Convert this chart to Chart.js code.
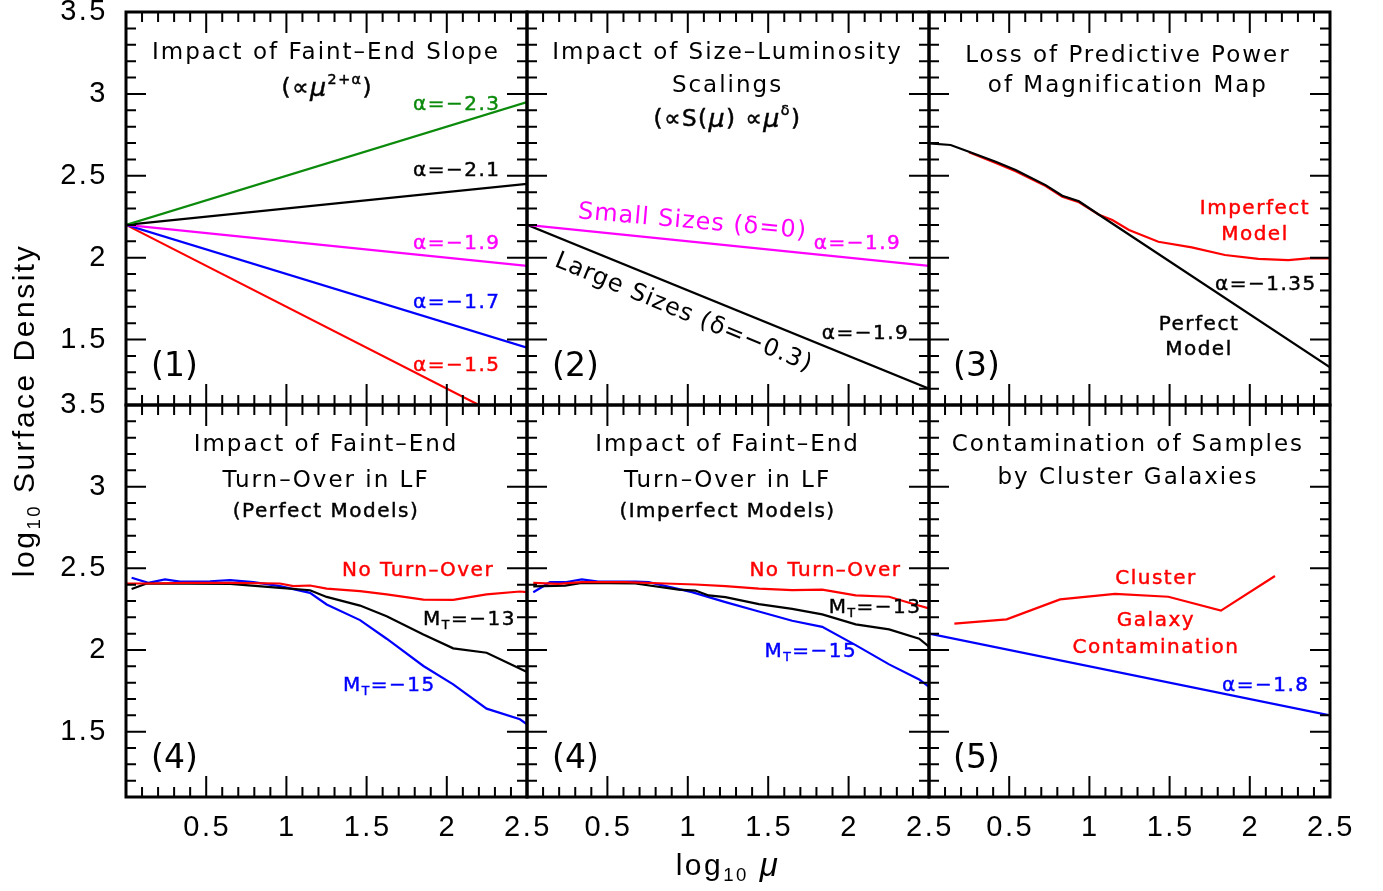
<!DOCTYPE html>
<html>
<head>
<meta charset="utf-8">
<title>Surface density vs magnification</title>
<script src="https://cdn.jsdelivr.net/npm/chart.js@4.4.1/dist/chart.umd.min.js"></script>
<style>
  body { margin: 0; background: #fff; }
  #figure { position: relative; width: 1383px; height: 891px; overflow: hidden; }
  #figure canvas { position: absolute; left: 0; top: 0; }
</style>
</head>
<body>
<div id="figure"></div>
<script>
// === axis ranges and tick labels (shared by all six panels) ===
const xMin = 0, xMax = 2.5;
const yMin = 1.1, yMax = 3.5;
const xTickValues = [0.5, 1, 1.5, 2, 2.5];
const xTickLabels = ["0.5", "1", "1.5", "2", "2.5"];
const yTickValues = [3.5, 3, 2.5, 2, 1.5];
const yTickLabels = ["3.5", "3", "2.5", "2", "1.5"];

// === (1) faint-end slope, [log mu, log density] ===
const slopeA23 = [[0, 2.2], [2.5, 2.95]];
const slopeA21 = [[0, 2.2], [2.5, 2.45]];
const slopeA19 = [[0, 2.2], [2.5, 1.95]];
const slopeA17 = [[0, 2.2], [2.5, 1.45]];
const slopeA15 = [[0, 2.2], [2.5, 0.95]];

// === (2) size-luminosity scalings ===
const sizeSmall = [[0, 2.2], [2.5, 1.95]];
const sizeLarge = [[0, 2.2], [2.5, 1.2]];

// === (3) magnification map ===
const mapPerfect = [[0, 2.698], [0.135, 2.688], [0.249, 2.647], [0.416, 2.585], [0.54, 2.535],
  [0.727, 2.443], [0.831, 2.378], [0.935, 2.344], [1.06, 2.262], [2.5, 1.33]];
const mapImperfect = [[0.249, 2.643], [0.416, 2.578], [0.54, 2.528], [0.727, 2.437], [0.831, 2.372],
  [0.935, 2.338], [1.06, 2.262], [1.143, 2.23], [1.247, 2.169], [1.43, 2.097], [1.638, 2.063],
  [1.845, 2.016], [2.053, 1.992], [2.24, 1.985], [2.365, 1.996], [2.5, 1.996]];

// === (4) turn-over, perfect models ===
const perfNoTurn = [[0.004, 2.407], [0.129, 2.407], [0.378, 2.411], [0.649, 2.411], [0.96, 2.407],
  [1.043, 2.391], [1.147, 2.395], [1.251, 2.376], [1.459, 2.36], [1.625, 2.34], [1.854, 2.309],
  [2.04, 2.307], [2.248, 2.34], [2.456, 2.358], [2.5, 2.354]];
const perfMT13 = [[0.035, 2.374], [0.129, 2.407], [0.649, 2.405], [0.96, 2.38], [1.147, 2.366],
  [1.251, 2.325], [1.459, 2.272], [1.625, 2.207], [1.854, 2.095], [2.04, 2.01], [2.248, 1.983],
  [2.5, 1.865]];
const perfMT15 = [[0.035, 2.442], [0.139, 2.411], [0.243, 2.432], [0.337, 2.419], [0.524, 2.421],
  [0.649, 2.428], [0.794, 2.415], [0.96, 2.391], [1.147, 2.35], [1.251, 2.279], [1.459, 2.183],
  [1.625, 2.069], [1.854, 1.902], [2.04, 1.79], [2.248, 1.641], [2.456, 1.576], [2.5, 1.545]];

// === (4) turn-over, imperfect models ===
const impNoTurn = [[0.039, 2.411], [0.195, 2.405], [0.341, 2.415], [0.611, 2.415], [0.86, 2.407],
  [1.047, 2.401], [1.234, 2.391], [1.442, 2.376], [1.649, 2.366], [1.836, 2.37], [2.044, 2.334],
  [2.252, 2.326], [2.376, 2.289], [2.5, 2.255]];
const impMT13 = [[0.039, 2.39], [0.237, 2.394], [0.341, 2.411], [0.674, 2.407], [0.943, 2.37],
  [1.047, 2.364], [1.13, 2.334], [1.234, 2.324], [1.442, 2.281], [1.649, 2.252], [1.836, 2.218],
  [2.044, 2.157], [2.252, 2.126], [2.439, 2.069], [2.5, 2.02]];
const impMT15 = [[0.039, 2.354], [0.143, 2.415], [0.237, 2.415], [0.341, 2.432], [0.444, 2.419],
  [0.674, 2.419], [0.756, 2.415], [1.026, 2.354], [1.234, 2.293], [1.442, 2.236], [1.649, 2.179],
  [1.836, 2.142], [2.044, 2.03], [2.252, 1.912], [2.439, 1.82], [2.5, 1.775]];

// === (5) cluster contamination ===
const clusterContam = [[0.158, 2.161], [0.484, 2.188], [0.817, 2.31], [1.16, 2.343], [1.492, 2.326],
  [1.82, 2.241], [2.157, 2.453]];
const contamA18 = [[0, 2.1], [2.5, 1.6]];

// === page layout ===
const W = 1383, H = 891;
const colEdges = [126, 527, 929, 1330];
const rowEdges = [12, 405, 797];

const GREEN = "#0b8a0b", MAGENTA = "#ff00ff", BLUE = "#0000ff", RED = "#ff0000", BLACK = "#000";

// text styles (dy nudges the em-box middle onto the cap-height middle)
const STYLE = {
  title:   { size: 23, family: "'DejaVu Sans'", spacing: 2, stroke: 0, dy: 2 },
  formula: { size: 23, family: "'DejaVu Sans'", spacing: 1.5, stroke: 0.5, dy: 2 },
  label:   { size: 20, family: "'DejaVu Sans'", spacing: 1.5, stroke: 0.45, dy: 2 },
  slant:   { size: 24, family: "'DejaVu Sans'", spacing: 1, stroke: 0, dy: 0 },
  tag:     { size: 33, family: "'DejaVu Sans'", spacing: 0, stroke: 0, dy: 3 },
  tick:    { size: 29, family: "'Liberation Sans'", spacing: 2.5, stroke: 0, dy: 0 },
  axis:    { size: 30, family: "'Liberation Sans'", spacing: 2.5, stroke: 0, dy: 0 }
};

const MT13 = [["M", ""], ["T", "sub"], ["=−13", ""]];
const MT15 = [["M", ""], ["T", "sub"], ["=−15", ""]];

const panels = [
  {
    col: 0, row: 0,
    series: [[slopeA23, GREEN], [slopeA21, BLACK], [slopeA19, MAGENTA], [slopeA17, BLUE], [slopeA15, RED]],
    texts: [
      { at: [1.247, 3.262], text: "Impact of Faint–End Slope", style: "title" },
      { at: [1.255, 3.042], parts: [["(∝", ""], ["μ", "it"], ["2+α", "sup"], [")", ""]], style: "formula" },
      { at: [1.789, 2.944], text: "α=−2.3", style: "label", align: "left", color: GREEN },
      { at: [1.789, 2.541], text: "α=−2.1", style: "label", align: "left" },
      { at: [1.789, 2.095], text: "α=−1.9", style: "label", align: "left", color: MAGENTA },
      { at: [1.789, 1.735], text: "α=−1.7", style: "label", align: "left", color: BLUE },
      { at: [1.789, 1.35], text: "α=−1.5", style: "label", align: "left", color: RED },
      { at: [0.156, 1.35], text: "(1)", style: "tag", align: "left" }
    ]
  },
  {
    col: 1, row: 0,
    series: [[sizeSmall, MAGENTA], [sizeLarge, BLACK]],
    texts: [
      { at: [1.247, 3.262], text: "Impact of Size–Luminosity", style: "title" },
      { at: [1.247, 3.06], text: "Scalings", style: "title" },
      { at: [1.247, 2.853], parts: [["(∝S(", ""], ["μ", "it"], [") ∝", ""], ["μ", "it"], ["δ", "sup"], [")", ""]], style: "formula" },
      { at: [1.029, 2.218], text: "Small Sizes (δ=0)", style: "slant", color: MAGENTA, rotate: 5 },
      { at: [1.783, 2.095], text: "α=−1.9", style: "label", align: "left", color: MAGENTA },
      { at: [0.973, 1.662], text: "Large Sizes (δ=−0.3)", style: "slant", rotate: 22.5 },
      { at: [1.833, 1.546], text: "α=−1.9", style: "label", align: "left" },
      { at: [0.156, 1.35], text: "(2)", style: "tag", align: "left" }
    ]
  },
  {
    col: 2, row: 0,
    series: [[mapPerfect, BLACK], [mapImperfect, RED]],
    texts: [
      { at: [1.24, 3.243], text: "Loss of Predictive Power", style: "title" },
      { at: [1.24, 3.06], text: "of Magnification Map", style: "title" },
      { at: [2.032, 2.309], text: "Imperfect", style: "label", color: RED },
      { at: [2.032, 2.15], text: "Model", style: "label", color: RED },
      { at: [1.783, 1.845], text: "α=−1.35", style: "label", align: "left" },
      { at: [1.683, 1.601], text: "Perfect", style: "label" },
      { at: [1.683, 1.448], text: "Model", style: "label" },
      { at: [0.15, 1.35], text: "(3)", style: "tag", align: "left" }
    ]
  },
  {
    col: 0, row: 1,
    series: [[perfNoTurn, RED], [perfMT13, BLACK], [perfMT15, BLUE]],
    texts: [
      { at: [1.247, 3.268], text: "Impact of Faint–End", style: "title" },
      { at: [1.247, 3.048], text: "Turn–Over in LF", style: "title" },
      { at: [1.247, 2.859], text: "(Perfect Models)", style: "label" },
      { at: [1.347, 2.498], text: "No Turn–Over", style: "label", align: "left", color: RED },
      { at: [1.852, 2.199], parts: MT13, style: "label", align: "left" },
      { at: [1.353, 1.796], parts: MT15, style: "label", align: "left", color: BLUE },
      { at: [0.156, 1.35], text: "(4)", style: "tag", align: "left" }
    ]
  },
  {
    col: 1, row: 1,
    series: [[impNoTurn, RED], [impMT13, BLACK], [impMT15, BLUE]],
    texts: [
      { at: [1.247, 3.268], text: "Impact of Faint–End", style: "title" },
      { at: [1.247, 3.048], text: "Turn–Over in LF", style: "title" },
      { at: [1.247, 2.859], text: "(Imperfect Models)", style: "label" },
      { at: [1.383, 2.498], text: "No Turn–Over", style: "label", align: "left", color: RED },
      { at: [1.876, 2.273], parts: MT13, style: "label", align: "left" },
      { at: [1.477, 2.004], parts: MT15, style: "label", align: "left", color: BLUE },
      { at: [0.156, 1.35], text: "(4)", style: "tag", align: "left" }
    ]
  },
  {
    col: 2, row: 1,
    series: [[clusterContam, RED], [contamA18, BLUE]],
    texts: [
      { at: [1.24, 3.268], text: "Contamination of Samples", style: "title" },
      { at: [1.24, 3.066], text: "by Cluster Galaxies", style: "title" },
      { at: [1.415, 2.45], text: "Cluster", style: "label", color: RED },
      { at: [1.415, 2.193], text: "Galaxy", style: "label", color: RED },
      { at: [1.415, 2.028], text: "Contamination", style: "label", color: RED },
      { at: [1.827, 1.796], text: "α=−1.8", style: "label", align: "left", color: BLUE },
      { at: [0.15, 1.35], text: "(5)", style: "tag", align: "left" }
    ]
  }
];

// draws a run of text pieces (normal / sub / sup / italic) on one line
function drawRich(ctx, parts, x, y, st, align, color) {
  const segs = parts.map(([t, mode]) => {
    const small = mode === "sub" || mode === "sup";
    const size = small ? st.size * 0.62 : mode === "it" ? st.size * 1.1 : st.size;
    const dy = mode === "sub" ? st.size * 0.3 : mode === "sup" ? -st.size * 0.38 : 0;
    const font = (mode === "it" ? "italic " : "") + size + "px " + st.family;
    ctx.font = font;
    ctx.letterSpacing = st.spacing + "px";
    return { t, font, dy, w: ctx.measureText(t).width };
  });
  const total = segs.reduce((s, g) => s + g.w, 0);
  let cx = align === "center" ? x - total / 2 : align === "right" ? x - total : x;
  const baseY = y + (st.dy || 0);
  ctx.fillStyle = color;
  ctx.strokeStyle = color;
  ctx.textAlign = "left";
  ctx.textBaseline = "middle";
  segs.forEach(g => {
    ctx.font = g.font;
    ctx.letterSpacing = st.spacing + "px";
    ctx.fillText(g.t, cx, baseY + g.dy);
    if (st.stroke) {
      ctx.lineWidth = st.stroke;
      ctx.strokeText(g.t, cx, baseY + g.dy);
    }
    cx += g.w;
  });
}

// frame, inward ticks, tick labels and annotations of one panel
const framePlugin = {
  id: "frame",
  afterDatasetsDraw(chart, args, opts) {
    const { ctx, chartArea: a, scales: { x, y } } = chart;
    ctx.save();
    ctx.strokeStyle = BLACK;
    ctx.lineWidth = 2;
    ctx.beginPath();
    for (let i = 1; i < 25; i++) {
      const px = x.getPixelForValue(i / 10);
      const len = i % 5 === 0 ? 21 : 10;
      ctx.moveTo(px, a.top); ctx.lineTo(px, a.top + len);
      ctx.moveTo(px, a.bottom); ctx.lineTo(px, a.bottom - len);
    }
    for (let i = 12; i < 35; i++) {
      const py = y.getPixelForValue(i / 10);
      const len = i % 5 === 0 ? 20 : 10;
      ctx.moveTo(a.left, py); ctx.lineTo(a.left + len, py);
      ctx.moveTo(a.right, py); ctx.lineTo(a.right - len, py);
    }
    ctx.stroke();
    ctx.lineWidth = 3;
    ctx.strokeRect(a.left, a.top, a.width, a.height);

    if (opts.yLabels) {
      yTickValues.forEach((v, i) =>
        drawRich(ctx, [[yTickLabels[i], ""]], a.left - 18, y.getPixelForValue(v), STYLE.tick, "right", BLACK));
    }
    if (opts.xLabels) {
      xTickValues.forEach((v, i) =>
        drawRich(ctx, [[xTickLabels[i], ""]], x.getPixelForValue(v) + 1, a.bottom + 31, STYLE.tick, "center", BLACK));
    }

    (opts.texts || []).forEach(tx => {
      const px = x.getPixelForValue(tx.at[0]);
      const py = y.getPixelForValue(tx.at[1]);
      const parts = tx.parts || [[tx.text, ""]];
      ctx.save();
      ctx.translate(px, py);
      if (tx.rotate) ctx.rotate(tx.rotate * Math.PI / 180);
      drawRich(ctx, parts, 0, 0, STYLE[tx.style], tx.align || "center", tx.color || BLACK);
      ctx.restore();
    });
    ctx.restore();
  }
};

// shared axis titles, drawn once on the first panel's canvas
const axisTitlePlugin = {
  id: "axisTitles",
  afterDraw(chart) {
    const ctx = chart.ctx;
    const midX = (colEdges[0] + colEdges[3]) / 2;
    ctx.save();
    drawRich(ctx, [["log", ""], ["10", "sub"], [" ", ""], ["μ", "it"]], midX, rowEdges[2] + 70, STYLE.axis, "center", BLACK);
    ctx.translate(26, (rowEdges[0] + rowEdges[2]) / 2 + 6);
    ctx.rotate(-Math.PI / 2);
    drawRich(ctx, [["log", ""], ["10", "sub"], [" Surface Density", ""]], 0, 0, STYLE.axis, "center", BLACK);
    ctx.restore();
  }
};

const figure = document.getElementById("figure");

panels.forEach((p, idx) => {
  const canvas = document.createElement("canvas");
  canvas.width = W;
  canvas.height = H;
  figure.appendChild(canvas);

  const left = colEdges[p.col], right = colEdges[p.col + 1];
  const top = rowEdges[p.row], bottom = rowEdges[p.row + 1];

  new Chart(canvas, {
    type: "line",
    data: {
      datasets: p.series.map(([pts, color]) => ({
        data: pts.map(([x, y]) => ({ x, y })),
        borderColor: color,
        borderWidth: 2.2,
        pointRadius: 0,
        tension: 0,
        fill: false
      }))
    },
    options: {
      responsive: false,
      animation: false,
      devicePixelRatio: 1,
      events: [],
      layout: { padding: { left, top, right: W - right, bottom: H - bottom } },
      plugins: {
        legend: { display: false },
        tooltip: { enabled: false },
        frame: { xLabels: p.row === 1, yLabels: p.col === 0, texts: p.texts }
      },
      scales: {
        x: { type: "linear", min: xMin, max: xMax, display: false },
        y: { type: "linear", min: yMin, max: yMax, display: false }
      }
    },
    plugins: idx === 0 ? [framePlugin, axisTitlePlugin] : [framePlugin]
  });
});
</script>
</body>
</html>
